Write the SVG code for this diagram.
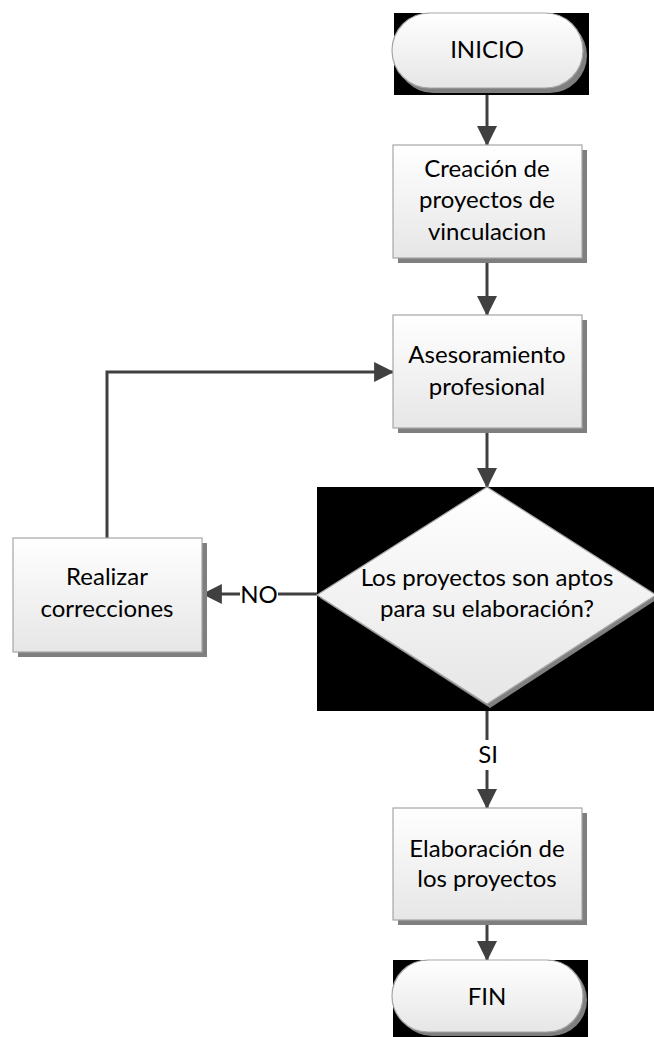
<svg xmlns="http://www.w3.org/2000/svg" width="654" height="1037" viewBox="0 0 654 1037">
<style>
.t{font-family:Lato,"Open Sans",sans-serif;font-size:24px;fill:#000;text-anchor:middle}
.box{fill:url(#g);stroke:#a6a6a6;stroke-width:1.2}
.sh{fill:#7f7f7f}
.c{fill:none;stroke:#404040;stroke-width:3}
</style>
<defs>
<linearGradient id="g" x1="0" y1="0" x2="0" y2="1">
<stop offset="0" stop-color="#ffffff"/>
<stop offset="1" stop-color="#e6e6e6"/>
</linearGradient>
<marker id="a" markerUnits="userSpaceOnUse" markerWidth="20" markerHeight="20" viewBox="0 0 18 18" refX="17" refY="9" orient="auto">
<path d="M0,0 L18,9 L0,18 Z" fill="#404040"/>
</marker>
</defs>
<rect width="654" height="1037" fill="#fff"/>
<g id="connectors">
<line class="c" x1="487" y1="88" x2="487" y2="145" marker-end="url(#a)"/>
<line class="c" x1="487" y1="258" x2="487" y2="315" marker-end="url(#a)"/>
<line class="c" x1="487" y1="428" x2="487" y2="487" marker-end="url(#a)"/>
<line class="c" x1="487" y1="704" x2="487" y2="808" marker-end="url(#a)"/>
<line class="c" x1="487" y1="920" x2="487" y2="960" marker-end="url(#a)"/>
<line class="c" x1="317" y1="594" x2="203" y2="594" marker-end="url(#a)"/>
<polyline class="c" points="107,538 107,372 393,372" marker-end="url(#a)"/>
<rect x="240" y="580" width="38" height="28" fill="#fff"/>
<text class="t" x="259" y="603">NO</text>
<rect x="474" y="740" width="28" height="30" fill="#fff"/>
<text class="t" x="488" y="763">SI</text>
</g>
<g id="inicio">
<rect x="394" y="13" width="195" height="82" fill="#000"/>
<rect x="396" y="18" width="191" height="75" rx="37.5" class="sh"/>
<rect x="392" y="13" width="191" height="75" rx="37.5" class="box"/>
<text class="t" x="487" y="58">INICIO</text>
</g>
<g id="creacion">
<rect x="398" y="150" width="189" height="113" class="sh"/>
<rect x="393" y="145" width="189" height="113" class="box"/>
<text class="t" x="487" y="177">Creación de</text>
<text class="t" x="487" y="208">proyectos de</text>
<text class="t" x="487" y="240">vinculacion</text>
</g>
<g id="asesoramiento">
<rect x="398" y="320" width="189" height="113" class="sh"/>
<rect x="393" y="315" width="189" height="113" class="box"/>
<text class="t" x="487" y="363">Asesoramiento</text>
<text class="t" x="487" y="395">profesional</text>
</g>
<g id="decision">
<rect x="317" y="487" width="337" height="224" fill="#000"/>
<polygon points="490,490 659,598 490,708 320,598" class="sh"/>
<polygon points="487,487 656,595 487,704 317,595" class="box"/>
<text class="t" x="487" y="586">Los proyectos son aptos</text>
<text class="t" x="487" y="617">para su elaboración?</text>
</g>
<g id="realizar">
<rect x="18" y="543" width="189" height="114" class="sh"/>
<rect x="13" y="538" width="189" height="114" class="box"/>
<text class="t" x="107" y="585">Realizar</text>
<text class="t" x="107" y="617">correcciones</text>
</g>
<g id="elaboracion">
<rect x="398" y="813" width="189" height="112" class="sh"/>
<rect x="393" y="808" width="189" height="112" class="box"/>
<text class="t" x="487" y="857">Elaboración de</text>
<text class="t" x="487" y="887">los proyectos</text>
</g>
<g id="fin">
<rect x="393" y="960" width="195" height="77" fill="#000"/>
<rect x="396" y="964" width="191" height="72" rx="36" class="sh"/>
<rect x="392" y="960" width="191" height="72" rx="36" class="box"/>
<text class="t" x="487" y="1005">FIN</text>
</g>
</svg>
